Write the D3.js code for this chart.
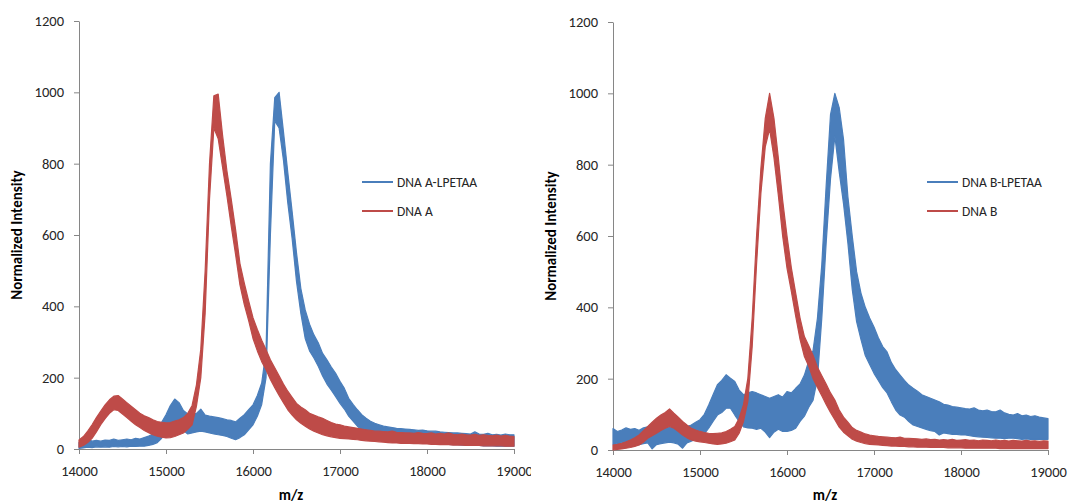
<!DOCTYPE html>
<html><head><meta charset="utf-8">
<script src="https://cdn.jsdelivr.net/npm/d3@7"></script>
<style>
body{margin:0;background:#fff}
text{font-family:Carlito, Lato, sans-serif}
</style>
</head><body>
<svg id="c" width="1073" height="504"></svg>
<script>
// m/z sampling grid (Da)
const mz = [
14000,14050,14100,14150,14200,14250,14300,14350,14400,14450,
14500,14550,14600,14650,14700,14750,14800,14850,14900,14950,
15000,15050,15100,15150,15200,15250,15300,15350,15400,15450,
15500,15550,15600,15650,15700,15750,15800,15850,15900,15950,
16000,16050,16100,16150,16200,16250,16300,16350,16400,16450,
16500,16550,16600,16650,16700,16750,16800,16850,16900,16950,
17000,17050,17100,17150,17200,17250,17300,17350,17400,17450,
17500,17550,17600,17650,17700,17750,17800,17850,17900,17950,
18000,18050,18100,18150,18200,18250,18300,18350,18400,18450,
18500,18550,18600,18650,18700,18750,18800,18850,18900,18950,
19000];

// Left panel: DNA A-LPETAA (noise band low / high)
const dnaALpetaaLo = [
2,3,5,4,6,5,6,5,7,6,
7,6,8,7,8,8,10,13,18,30,
50,60,68,60,52,42,45,48,50,48,
45,42,40,38,35,30,26,32,40,54,
68,92,125,200,600,920,900,810,690,590,
470,380,310,275,255,232,205,182,165,147,
128,112,92,78,64,54,46,40,36,32,
29,27,26,24,23,22,21,21,20,19,
18,17,16,15,14,13,12,12,11,11,
10,10,10,9,9,9,8,8,8,8,
8];
const dnaALpetaaHi = [
18,22,30,22,24,22,25,24,28,24,
26,28,26,30,28,32,36,42,50,75,
96,122,140,130,108,98,98,100,112,95,
92,90,88,85,82,80,76,86,96,110,
124,150,185,275,800,985,1000,890,775,665,
550,450,390,350,320,298,268,250,230,212,
190,170,142,125,110,96,86,78,72,68,
64,62,60,58,57,56,55,54,52,53,
51,50,50,48,47,46,45,45,44,43,
42,48,42,41,44,40,41,39,42,40,
40];
// Left panel: DNA A
const dnaALo = [
5,10,18,30,48,68,85,100,110,108,
98,88,78,68,60,52,46,40,36,33,
31,32,35,40,45,55,68,120,200,380,
700,900,870,790,710,625,545,460,405,360,
310,275,245,222,195,172,150,130,110,95,
82,72,64,56,50,45,40,37,34,32,
30,29,28,27,26,24,23,22,21,20,
19,18,17,17,16,16,16,15,15,14,
14,13,13,12,12,12,11,11,11,10,
10,10,10,9,9,9,9,9,8,8,
8];
const dnaAHi = [
25,35,50,68,88,106,124,138,148,150,
140,130,120,110,100,93,88,82,77,75,
73,74,78,82,88,100,122,180,280,500,
800,990,995,880,780,700,615,520,465,415,
368,335,305,278,250,228,205,182,162,145,
128,118,110,100,95,90,86,80,74,70,
68,64,62,60,58,56,54,52,50,50,
49,48,50,47,46,45,45,44,46,44,
43,45,42,44,42,45,41,40,42,40,
39,41,38,40,38,37,39,36,38,36,
35];

// Right panel: DNA B-LPETAA
const dnaBLpetaaLo = [
15,18,20,18,20,16,15,18,20,3,
15,18,20,22,20,16,5,20,25,30,
35,45,61,80,98,105,117,117,98,80,
65,62,61,58,61,50,35,50,58,52,
52,55,61,80,95,120,140,200,370,580,
760,880,780,690,580,450,360,310,265,240,
215,195,175,160,135,112,98,92,80,70,
66,62,58,54,52,42,48,46,44,44,
42,42,40,38,37,36,35,34,33,33,
32,33,33,32,30,31,30,30,30,30,
30];
const dnaBLpetaaHi = [
60,52,56,62,58,60,55,62,65,58,
60,62,66,63,65,60,58,66,70,78,
85,100,126,155,183,195,211,201,192,168,
155,160,164,160,155,150,145,150,155,148,
164,160,173,185,210,250,280,370,520,740,
940,1000,960,870,710,600,500,440,400,370,
345,315,290,275,245,225,210,195,182,173,
165,155,150,145,140,135,128,126,122,120,
118,116,115,118,112,110,112,108,107,112,
104,100,98,102,96,98,94,96,92,90,
88];
// Right panel: DNA B
const dnaBLo = [
0,2,3,5,7,10,14,22,33,40,
47,55,61,66,61,52,42,34,28,25,
23,21,19,17,16,17,19,23,28,47,
80,136,290,520,720,850,900,820,715,600,
510,445,375,310,262,235,200,175,152,128,
105,85,64,50,40,30,25,21,18,16,
15,14,13,12,11,11,10,10,9,9,
8,8,8,7,7,7,7,6,6,6,
6,5,5,5,5,5,5,5,5,4,
4,4,4,4,4,4,4,4,4,4,
4];
const dnaBHi = [
14,16,19,23,28,34,42,54,66,78,
89,98,105,115,103,92,80,70,61,56,
52,49,47,46,47,48,52,58,66,89,
127,201,370,600,790,930,1000,930,820,700,
600,511,440,370,318,292,265,232,208,185,
160,140,112,92,78,63,55,50,45,42,
40,38,37,36,35,34,36,33,33,32,
31,30,31,29,30,28,29,28,30,27,
28,29,27,28,26,28,27,26,28,26,
27,25,27,26,25,27,25,26,24,26,
25];

const xTicks = [14000,15000,16000,17000,18000,19000];
const yTicks = [0,200,400,600,800,1000,1200];
const seriesNames = [["DNA A-LPETAA","DNA A"],["DNA B-LPETAA","DNA B"]];
const BLUE = "#4a7ebb", RED = "#be4b48", AXIS = "#868686", TXT = "#262626";

const panels = [
  {x0:79, x1:514, y0:449, y1:21, clip:[0,531], legendX:362, yTitleX:17, xTitleX:291,
   series:[{lo:dnaALpetaaLo,hi:dnaALpetaaHi,color:BLUE,name:seriesNames[0][0]},
           {lo:dnaALo,hi:dnaAHi,color:RED,name:seriesNames[0][1]}]},
  {x0:613, x1:1048, y0:450, y1:22, clip:[534,1073], legendX:927, yTitleX:551, xTitleX:825,
   series:[{lo:dnaBLpetaaLo,hi:dnaBLpetaaHi,color:BLUE,name:seriesNames[1][0]},
           {lo:dnaBLo,hi:dnaBHi,color:RED,name:seriesNames[1][1]}]}
];

const svg = d3.select("#c");
const defs = svg.append("defs");

panels.forEach((p,i)=>{
  defs.append("clipPath").attr("id","clip"+i).append("rect")
    .attr("x",p.clip[0]).attr("y",0).attr("width",p.clip[1]-p.clip[0]).attr("height",504);
  const g = svg.append("g").attr("clip-path",`url(#clip${i})`);
  const x = d3.scaleLinear().domain([14000,19000]).range([p.x0,p.x1]);
  const y = d3.scaleLinear().domain([0,1200]).range([p.y0,p.y1]);

  // axes
  const ya = g.append("g").attr("transform",`translate(${p.x0},0)`)
    .call(d3.axisLeft(y).tickValues(yTicks).tickSize(5).tickSizeOuter(0).tickPadding(10).tickFormat(d3.format("d")));
  const xa = g.append("g").attr("transform",`translate(0,${p.y0})`)
    .call(d3.axisBottom(x).tickValues(xTicks).tickSize(5).tickSizeOuter(0).tickPadding(12).tickFormat(d3.format("d")));
  [ya,xa].forEach(a=>{
    a.select(".domain").attr("stroke",AXIS);
    a.selectAll(".tick line").attr("stroke",AXIS);
    a.selectAll(".tick text").attr("fill",TXT).style("font-size","14.5px").style("font-family","Carlito, Lato, sans-serif");
  });

  // series: noisy trace drawn as the band between its low and high readings
  p.series.forEach(s=>{
    const area = d3.area()
      .x((d,j)=>x(mz[j]))
      .y0((d,j)=>y(s.lo[j]))
      .y1((d,j)=>y(s.hi[j]));
    g.append("path").datum(s.lo).attr("d",area)
      .attr("fill",s.color).attr("stroke",s.color)
      .attr("stroke-width",1.2).attr("stroke-linejoin","round");
  });

  // axis titles
  g.append("text").attr("transform",`translate(${p.yTitleX},${(p.y0+p.y1)/2}) rotate(-90)`)
    .attr("text-anchor","middle").attr("dy","0.35em")
    .style("font-weight","bold").style("font-size","15px").attr("fill","#000")
    .text("Normalized Intensity");
  g.append("text").attr("x",p.xTitleX).attr("y",495).attr("dy","0.35em")
    .attr("text-anchor","middle")
    .style("font-weight","bold").style("font-size","15px").attr("fill","#000")
    .text("m/z");

  // legend
  p.series.forEach((s,k)=>{
    const ly = 182 + k*29;
    g.append("line").attr("x1",p.legendX).attr("x2",p.legendX+31)
      .attr("y1",ly).attr("y2",ly).attr("stroke",s.color).attr("stroke-width",2);
    g.append("text").attr("x",p.legendX+35).attr("y",ly).attr("dy","0.35em")
      .style("font-size","13.5px").attr("fill",TXT).text(s.name);
  });
});
</script>
</body></html>
